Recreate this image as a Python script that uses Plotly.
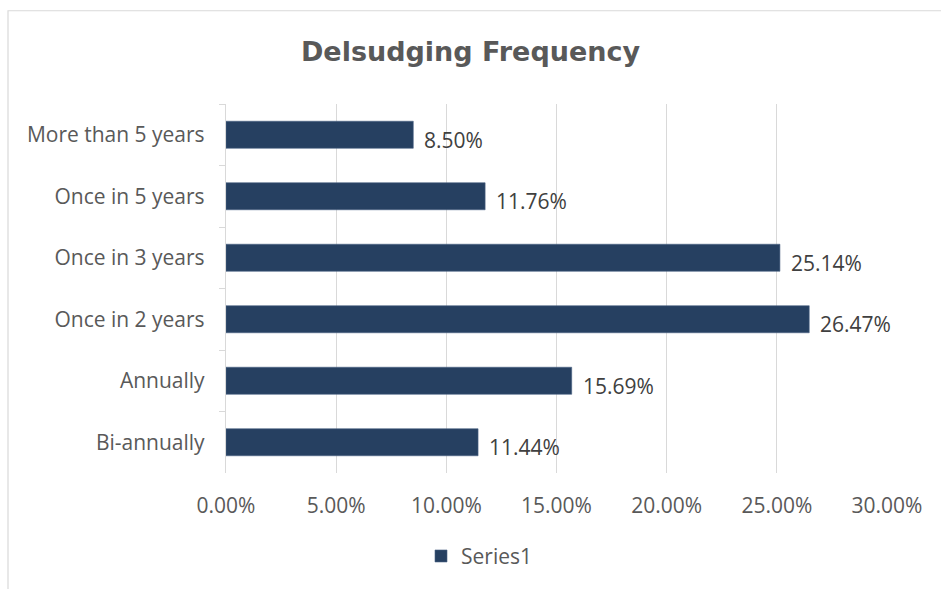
import plotly.graph_objects as go

# Desludging frequency survey results (share of respondents, %)
categories = ["More than 5 years", "Once in 5 years", "Once in 3 years",
              "Once in 2 years", "Annually", "Bi-annually"]
values = [8.50, 11.76, 25.14, 26.47, 15.69, 11.44]
x_ticks = [0, 5, 10, 15, 20, 25, 30]
x_tick_labels = ["0.00%", "5.00%", "10.00%", "15.00%", "20.00%", "25.00%", "30.00%"]

BAR = "#264061"
TEXT = "#595959"
GRID = "#d9d9d9"
FONT = "Open Sans"
FS = 21

fig = go.Figure()
fig.add_trace(go.Bar(
    y=categories, x=values, orientation="h", name="Series1",
    marker=dict(color=BAR, line=dict(color="#4a6283", width=0.6)),
    hoverinfo="x+y",
))

# Value labels just past each bar end
for c, v in zip(categories, values):
    fig.add_annotation(x=v, y=c, text=f"{v:.2f}%", showarrow=False,
                       xanchor="left", yanchor="middle", xshift=9, yshift=-5,
                       font=dict(family=FONT, size=FS, color="#404040"))

# Outer chart frame
fig.add_shape(type="rect", xref="paper", yref="paper",
              x0=(8 - 226) / 661, x1=1.2, y0=-0.5, y1=(476 - 10) / 372,
              line=dict(color=GRID, width=1.2), fillcolor="rgba(0,0,0,0)", layer="below")

fig.update_layout(
    width=941, height=589,
    margin=dict(l=226, r=54, t=104, b=113),
    paper_bgcolor="white", plot_bgcolor="white",
    title=dict(text="<b>Delsudging Frequency</b>", x=0.5, xanchor="center",
               y=1 - 52 / 589, yanchor="middle", yref="container",
               font=dict(family="DejaVu Sans", size=27, color=TEXT)),
    bargap=0.56,
    showlegend=True,
    legend=dict(orientation="h", x=(421 - 226) / 661, xanchor="left",
                y=(476 - 560) / 372, yanchor="middle",
                font=dict(family=FONT, size=FS, color=TEXT),
                itemwidth=30),
    xaxis=dict(range=[0, 30], tickvals=x_ticks, ticktext=x_tick_labels,
               showgrid=True, gridcolor=GRID, gridwidth=1.3,
               zeroline=False, showline=False, ticks="",
               ticklabelstandoff=18,
               tickfont=dict(family=FONT, size=FS, color=TEXT)),
    yaxis=dict(autorange="reversed", type="category",
               showline=True, linecolor=GRID, linewidth=1.3,
               ticks="outside", tickson="boundaries", ticklen=6, tickcolor=GRID,
               tickwidth=1.3, ticklabelstandoff=16,
               showgrid=False, zeroline=False,
               tickfont=dict(family=FONT, size=FS, color=TEXT)),
)

fig.write_html("out.html")
